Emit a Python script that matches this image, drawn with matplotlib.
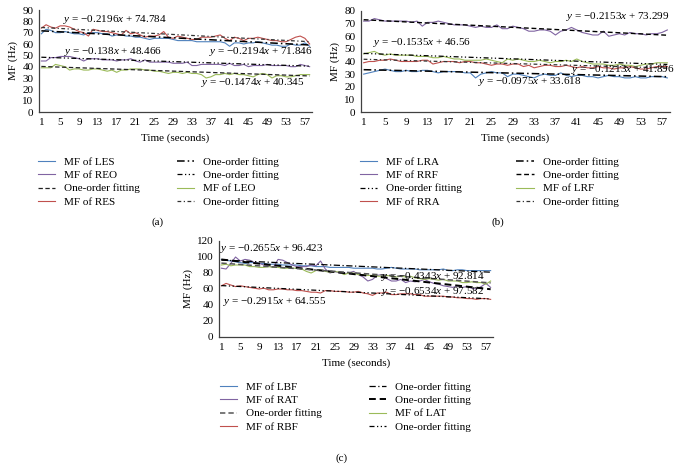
import numpy as np
import matplotlib
matplotlib.use("Agg")
import matplotlib.pyplot as plt

plt.rcParams['font.family'] = ['Liberation Serif', 'DejaVu Serif']
plt.rcParams['mathtext.fontset'] = 'custom'
plt.rcParams['mathtext.rm'] = 'Liberation Serif'
plt.rcParams['mathtext.it'] = 'Liberation Serif:italic'

# time axis (seconds)
t = np.arange(1, 59)
xticks = list(range(1, 58, 4))

# ---- panel (a) ----
les = [69, 73, 72, 70, 70, 71, 70, 69, 69, 68, 70, 70, 70, 69, 69, 67, 68, 68, 67, 67,
       66, 66, 65, 64, 65, 65, 65, 65, 64, 63, 63, 63, 63, 62, 62, 62, 62, 62, 62, 61,
       58, 61, 61, 60, 61, 61, 62, 61, 60, 59, 59, 58, 58, 60, 59, 59, 61, 58]
reo = [45, 45, 48, 48, 49, 49, 49, 48, 47, 45, 47, 47, 47, 46, 46, 46, 45, 46, 46, 47,
       45, 44, 46, 44, 44, 44, 44, 44, 43, 43, 43, 44, 41, 41, 42, 42, 42, 42, 42, 41,
       43, 41, 41, 42, 40, 41, 41, 41, 42, 41, 41, 41, 41, 40, 40, 42, 41, 40]
leo = [39, 39, 39, 42, 41, 40, 37, 38, 38, 37, 37, 38, 38, 37, 36, 37, 35, 37, 37, 38,
       38, 38, 37, 37, 36, 36, 35, 34, 35, 35, 34, 35, 34, 34, 33, 30, 31, 33, 33, 34,
       33, 34, 33, 33, 32, 31, 33, 34, 33, 30, 32, 32, 31, 31, 32, 33, 33, 33]
res = [74, 77, 75, 74, 76, 76, 75, 73, 71, 70, 67, 73, 72, 71, 71, 70, 69, 68, 72, 69,
       70, 68, 66, 67, 67, 68, 71, 66, 65, 67, 66, 65, 64, 64, 66, 66, 66, 67, 68, 65,
       63, 66, 65, 63, 65, 65, 66, 65, 64, 63, 63, 62, 62, 64, 66, 67, 65, 60]
fit_a = {'LES': (-0.2194, 71.846), 'REO': (-0.138, 48.466),
         'LEO': (-0.1474, 40.345), 'RES': (-0.2196, 74.784)}

# ---- panel (b) ----
lra = [30, 31, 32, 33, 34, 33, 32, 32, 33, 32, 32, 33, 33, 32, 31, 32, 32, 32, 32, 31,
       31, 27, 30, 31, 32, 31, 31, 28, 30, 30, 29, 28, 27, 29, 30, 29, 29, 31, 29, 28,
       29, 29, 28, 28, 27, 28, 29, 28, 28, 27, 27, 28, 27, 27, 28, 28, 28, 27]
rrf = [72, 72, 74, 73, 72, 72, 72, 72, 72, 71, 72, 68, 71, 71, 72, 71, 70, 69, 69, 69,
       68, 67, 68, 67, 67, 69, 66, 66, 68, 67, 66, 64, 64, 65, 65, 64, 61, 64, 65, 67,
       65, 63, 62, 61, 61, 64, 60, 61, 62, 61, 63, 62, 62, 61, 62, 62, 63, 65]
lrf = [46, 47, 48, 46, 45, 46, 45, 45, 45, 45, 44, 44, 44, 43, 43, 44, 43, 42, 42, 41,
       41, 41, 41, 42, 41, 40, 39, 42, 41, 42, 41, 40, 40, 41, 40, 39, 40, 40, 41, 40,
       42, 40, 39, 38, 38, 38, 37, 37, 38, 37, 37, 36, 37, 38, 38, 39, 39, 39]
rra = [39, 40, 40, 41, 41, 42, 41, 40, 40, 40, 40, 41, 41, 38, 39, 40, 40, 40, 39, 40,
       40, 39, 39, 38, 37, 38, 38, 37, 38, 38, 36, 37, 35, 36, 37, 37, 36, 36, 37, 36,
       35, 36, 35, 35, 36, 35, 35, 34, 35, 35, 36, 35, 34, 34, 35, 36, 36, 36]
fit_b = {'LRA': (-0.0975, 33.618), 'RRF': (-0.2153, 73.299),
         'LRF': (-0.1535, 46.56), 'RRA': (-0.1213, 41.896)}

# ---- panel (c) ----
lbf = [97, 96, 95, 94, 93, 92, 93, 93, 92, 92, 91, 91, 91, 90, 90, 90, 90, 89, 89, 89,
       88, 88, 88, 87, 87, 87, 87, 87, 86, 86, 86, 86, 86, 85, 85, 86, 87, 86, 85, 85,
       85, 85, 84, 84, 84, 84, 84, 85, 83, 83, 84, 84, 83, 83, 83, 83, 83, 83]
rat = [86, 85, 92, 100, 95, 97, 96, 93, 92, 90, 89, 87, 97, 96, 93, 90, 88, 88, 88, 90,
       89, 95, 85, 80, 82, 80, 79, 80, 82, 78, 75, 70, 72, 77, 78, 73, 70, 70, 72, 68,
       70, 69, 70, 72, 69, 67, 66, 64, 63, 62, 64, 62, 63, 61, 60, 63, 67, 62]
lat = [90, 91, 89, 90, 90, 90, 88, 88, 87, 87, 88, 87, 87, 86, 86, 86, 86, 85, 82, 80,
       83, 84, 82, 81, 82, 81, 78, 80, 80, 78, 78, 77, 77, 76, 76, 77, 76, 75, 76, 75,
       76, 74, 73, 72, 73, 72, 71, 72, 70, 70, 70, 68, 68, 69, 68, 68, 66, 70]
rbf = [64, 67, 65, 63, 64, 63, 62, 61, 60, 61, 59, 59, 60, 60, 59, 59, 58, 58, 57, 56,
       56, 55, 58, 58, 57, 57, 57, 56, 56, 57, 55, 54, 52, 55, 55, 56, 53, 53, 54, 54,
       54, 53, 53, 51, 51, 51, 51, 51, 50, 50, 49, 49, 48, 48, 47, 48, 48, 47]
fit_c = {'LBF': (-0.2655, 96.423), 'RAT': (-0.6534, 97.582),
         'LAT': (-0.4343, 92.814), 'RBF': (-0.2915, 64.555)}

BLUE, PURPLE, GREEN, RED = '#4F81BD', '#8064A2', '#9BBB59', '#C0504D'
FS = 8
EQ_FS = 8
DASHDOT = (0, (5, 2, 1, 2))
DASHDOTDOT = (0, (4, 2, 1, 2, 1, 2))
DASHED = (0, (3.5, 2))
LONGDD = (0, (3, 2, 1, 2))


def eq(m, b):
    return r'$y$ = $-$%g$x$ + %g' % (-m, b)


def setup(ax, ymax, ystep):
    ax.set_xlim(0.5, 58.5)
    ax.set_ylim(0, ymax)
    ax.set_yticks(range(0, ymax + 1, ystep))
    ax.set_xticks(xticks)
    ax.tick_params(length=0, labelsize=FS, pad=4)
    for s in ['top', 'right']:
        ax.spines[s].set_visible(False)
    for s in ['left', 'bottom']:
        ax.spines[s].set_color('#404040')
        ax.spines[s].set_linewidth(0.9)
    ax.set_xlabel('Time (seconds)', fontsize=FS, labelpad=5)
    ax.set_ylabel('MF (Hz)', fontsize=FS, labelpad=3)


def fitline(ax, m, b, style, lw=0.9, color='black'):
    return ax.plot(t, m * t + b, color=color, lw=lw, linestyle=style)[0]


def legend(handles, labels, x, y, colsp):
    fig.legend(handles, labels, ncol=2, loc='upper left',
               bbox_to_anchor=(x / 679, 1 - y / 471), frameon=False,
               fontsize=FS, handlelength=1.55, handletextpad=0.8,
               columnspacing=colsp, labelspacing=0.32, borderpad=0,
               borderaxespad=0)


fig = plt.figure(figsize=(6.79, 4.71), dpi=100)

# (a)
ax = fig.add_axes([39 / 679, 1 - 112 / 471, 273 / 679, 102 / 471])
setup(ax, 90, 10)
h1 = ax.plot(t, les, color=BLUE, lw=0.8)[0]
h2 = ax.plot(t, reo, color=PURPLE, lw=0.8)[0]
h3 = ax.plot(t, leo, color=GREEN, lw=0.8)[0]
h4 = ax.plot(t, res, color=RED, lw=0.8)[0]
f1 = fitline(ax, *fit_a['LES'], DASHDOT, lw=1.1)
f2 = fitline(ax, *fit_a['REO'], DASHDOTDOT)
f3 = fitline(ax, *fit_a['LEO'], DASHED, color='#222222')
f4 = fitline(ax, *fit_a['RES'], LONGDD, color='#333333')
ax.text(5.6, 82, eq(*fit_a['RES']), fontsize=EQ_FS, va='center')
ax.text(5.8, 53, eq(*fit_a['REO']), fontsize=EQ_FS, va='center')
ax.text(36.6, 53, eq(*fit_a['LES']), fontsize=EQ_FS, va='center')
ax.text(34.9, 26, eq(*fit_a['LEO']), fontsize=EQ_FS, va='center')
legend([h1, h2, f3, h4, f1, f2, h3, f4],
       ['MF of LES', 'MF of REO', 'One-order fitting', 'MF of RES',
        'One-order fitting', 'One-order fitting', 'MF of LEO', 'One-order fitting'],
       38, 157, 3.3)
fig.text(158 / 679, 1 - 222 / 471, '(a)', fontsize=FS, ha='center', va='center')

# (b)
ax = fig.add_axes([361 / 679, 1 - 112 / 471, 309 / 679, 101 / 471])
setup(ax, 80, 10)
h1 = ax.plot(t, lra, color=BLUE, lw=0.8)[0]
h2 = ax.plot(t, rrf, color=PURPLE, lw=0.8)[0]
h3 = ax.plot(t, lrf, color=GREEN, lw=0.8)[0]
h4 = ax.plot(t, rra, color=RED, lw=0.8)[0]
f1 = fitline(ax, *fit_b['LRA'], DASHDOT, lw=1.1)
f2 = fitline(ax, *fit_b['RRF'], DASHED, lw=1.0)
f3 = fitline(ax, *fit_b['LRF'], DASHDOTDOT)
f4 = fitline(ax, *fit_b['RRA'], LONGDD, color='#333333')
ax.text(39.0, 76, eq(*fit_b['RRF']), fontsize=EQ_FS, va='center')
ax.text(2.8, 55, eq(*fit_b['LRF']), fontsize=EQ_FS, va='center')
ax.text(39.9, 34, eq(*fit_b['RRA']), fontsize=EQ_FS, va='center')
ax.text(22.4, 24, eq(*fit_b['LRA']), fontsize=EQ_FS, va='center')
legend([h1, h2, f3, h4, f1, f2, h3, f4],
       ['MF of LRA', 'MF of RRF', 'One-order fitting', 'MF of RRA',
        'One-order fitting', 'One-order fitting', 'MF of LRF', 'One-order fitting'],
       360, 157, 4.9)
fig.text(498 / 679, 1 - 222 / 471, '(b)', fontsize=FS, ha='center', va='center')

# (c)
ax = fig.add_axes([219 / 679, 1 - 337 / 471, 274 / 679, 96 / 471])
setup(ax, 120, 20)
h1 = ax.plot(t, lbf, color=BLUE, lw=0.8)[0]
h2 = ax.plot(t, rat, color=PURPLE, lw=0.8)[0]
h3 = ax.plot(t, lat, color=GREEN, lw=0.8)[0]
h4 = ax.plot(t, rbf, color=RED, lw=0.8)[0]
f1 = fitline(ax, *fit_c['LBF'], DASHDOT, lw=0.9)
f2 = fitline(ax, *fit_c['RAT'], DASHED, lw=1.4)
f3 = fitline(ax, *fit_c['LAT'], DASHED, color='#555555', lw=1.1)
f4 = fitline(ax, *fit_c['RBF'], DASHDOTDOT)
ax.text(0.7, 111, eq(*fit_c['LBF']), fontsize=EQ_FS, va='center')
ax.text(34.8, 76, eq(*fit_c['LAT']), fontsize=EQ_FS, va='center')
ax.text(34.8, 57, eq(*fit_c['RAT']), fontsize=EQ_FS, va='center')
ax.text(1.3, 45, eq(*fit_c['RBF']), fontsize=EQ_FS, va='center')
legend([h1, h2, f3, h4, f1, f2, h3, f4],
       ['MF of LBF', 'MF of RAT', 'One-order fitting', 'MF of RBF',
        'One-order fitting', 'One-order fitting', 'MF of LAT', 'One-order fitting'],
       220, 382, 4.2)
fig.text(342 / 679, 1 - 458 / 471, '(c)', fontsize=FS, ha='center', va='center')

fig.savefig('out.png', dpi=100)
